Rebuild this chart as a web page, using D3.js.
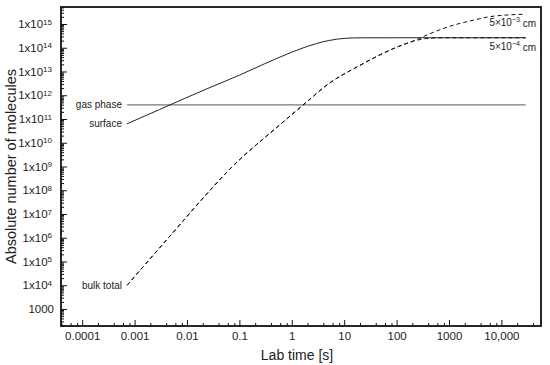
<!DOCTYPE html>
<html>
<head>
<meta charset="utf-8">
<script src="https://d3js.org/d3.v7.min.js"></script>
<style>
  body { margin: 0; background: #fff; }
  svg { display: block; font-family: "Liberation Sans", Arial, sans-serif; }
  .tick text { font-size: 11.5px; fill: #222; }
</style>
</head>
<body>
<svg id="chart" width="550" height="365"></svg>
<script>
// values (time in s, count of molecules)
const gasTime = [7.2e-4, 2.9e4];
const gasCount = [3.9e11, 3.9e11];

const surfaceTime = [7.2e-4, 0.003, 0.01, 0.03, 0.1, 0.3, 1, 2, 3, 5, 10, 20, 100, 2.9e4];
const surfaceCount = [6.3e10, 2.5e11, 8.1e11, 2.3e12, 7e12, 2.1e13, 6.5e13, 1.15e14, 1.52e14, 2.0e14, 2.48e14, 2.62e14, 2.63e14, 2.63e14];

const bulkTime = [7.2e-4, 4.6e-3, 0.041, 0.065, 0.2, 0.32, 1.65, 5.2, 18, 95, 230, 410, 650, 1300, 2750, 5750, 12900, 2.9e4];
const bulkThick = [1e4, 1.1e6, 2.6e8, 7.6e8, 7.5e9, 1.8e10, 3.9e11, 3.2e12, 1.6e13, 1.0e14, 2.1e14, 3.7e14, 5.6e14, 9.3e14, 1.4e15, 2.0e15, 2.4e15, 2.57e15]; // 5x10^-3 cm
const bulkThin = [1e4, 1.1e6, 2.6e8, 7.6e8, 7.5e9, 1.8e10, 3.9e11, 3.2e12, 1.6e13, 1.0e14, 2.0e14, 2.5e14, 2.63e14, 2.63e14, 2.63e14, 2.63e14, 2.63e14, 2.63e14]; // 5x10^-4 cm

const xTicks = [1e-4, 1e-3, 0.01, 0.1, 1, 10, 100, 1000, 10000];
const xTickLabels = ["0.0001", "0.001", "0.01", "0.1", "1", "10", "100", "1000", "10,000"];
const yTicks = [1e3, 1e4, 1e5, 1e6, 1e7, 1e8, 1e9, 1e10, 1e11, 1e12, 1e13, 1e14, 1e15];
const yExponents = [3, 4, 5, 6, 7, 8, 9, 10, 11, 12, 13, 14, 15];

const svg = d3.select('#chart');
const pLeft = 61, pRight = 541, pTop = 7, pBottom = 326;

const x = d3.scaleLog().domain([3.94e-5, 5.7e4]).range([pLeft, pRight]);
const y = d3.scaleLog().domain([192, 5.2e15]).range([pBottom, pTop]);

// minor tick positions
let xMinor = [], yMinor = [];
for (let e = -5; e <= 4; e++) [2, 4, 6, 8].forEach(m => {
  const v = m * Math.pow(10, e);
  if (v > x.domain()[0] && v < x.domain()[1]) xMinor.push(v);
});
for (let e = 2; e <= 15; e++) for (let m = 2; m <= 9; m++) {
  const v = m * Math.pow(10, e);
  if (v > y.domain()[0] && v < y.domain()[1]) yMinor.push(v);
}

// axes
svg.append('g')
  .attr('transform', `translate(0,${pBottom})`)
  .call(d3.axisBottom(x).tickValues(xMinor).tickSizeInner(-3).tickSizeOuter(0).tickFormat(''))
  .call(g => g.select('.domain').remove());
svg.append('g')
  .attr('transform', `translate(0,${pBottom})`)
  .call(d3.axisBottom(x).tickValues(xTicks).tickSizeInner(-6).tickSizeOuter(0).tickPadding(6)
    .tickFormat((d, i) => xTickLabels[i]))
  .call(g => g.select('.domain').remove());

svg.append('g')
  .attr('transform', `translate(${pLeft},0)`)
  .call(d3.axisLeft(y).tickValues(yMinor).tickSizeInner(-3).tickSizeOuter(0).tickFormat(''))
  .call(g => g.select('.domain').remove());
svg.append('g')
  .attr('transform', `translate(${pLeft},0)`)
  .call(d3.axisLeft(y).tickValues(yTicks).tickSizeInner(-6).tickSizeOuter(0).tickPadding(9).tickFormat(''))
  .call(g => g.select('.domain').remove())
  .selectAll('.tick text')
  .each(function (d, i) {
    const t = d3.select(this);
    if (yExponents[i] === 3) { t.text('1000').attr('x', -7); return; }
    t.append('tspan').text('1x10');
    t.append('tspan').attr('dy', '-0.45em').style('font-size', '8px').text(yExponents[i]);
  });

svg.selectAll('.tick line').attr('stroke', '#111').attr('stroke-width', 1);

// frame
svg.append('rect')
  .attr('x', pLeft).attr('y', pTop)
  .attr('width', pRight - pLeft).attr('height', pBottom - pTop)
  .attr('fill', 'none').attr('stroke', '#111').attr('stroke-width', 1.8);

// lines
const line = d3.line().x(d => x(d[0])).y(d => y(d[1])).curve(d3.curveMonotoneX);

svg.append('path')
  .datum(d3.zip(gasTime, gasCount))
  .attr('d', line).attr('fill', 'none').attr('stroke', '#777').attr('stroke-width', 1.2);

svg.append('path')
  .datum(d3.zip(surfaceTime, surfaceCount))
  .attr('d', line).attr('fill', 'none').attr('stroke', '#222').attr('stroke-width', 1);

[bulkThick, bulkThin].forEach(vals => {
  svg.append('path')
    .datum(d3.zip(bulkTime, vals))
    .attr('d', line).attr('fill', 'none').attr('stroke', '#111')
    .attr('stroke-width', 1).attr('stroke-dasharray', '4,3');
});

// labels on the lines
const notes = svg.append('g').style('font-size', '10px').attr('fill', '#222');
notes.append('text').attr('x', 122).attr('y', y(gasCount[0])).attr('dy', '0.35em')
  .attr('text-anchor', 'end').text('gas phase');
notes.append('text').attr('x', 122).attr('y', y(surfaceCount[0])).attr('dy', '0.35em')
  .attr('text-anchor', 'end').text('surface');
notes.append('text').attr('x', 122).attr('y', y(bulkThick[0])).attr('dy', '0.35em')
  .attr('text-anchor', 'end').text('bulk total');

const n1 = notes.append('text').attr('x', 536).attr('y', 22).attr('dy', '0.35em').attr('text-anchor', 'end');
n1.append('tspan').text('5×10');
n1.append('tspan').attr('dy', '-0.45em').style('font-size', '7px').text('−3');
n1.append('tspan').attr('dy', '0.45em').text(' cm');
const n2 = notes.append('text').attr('x', 536).attr('y', 46).attr('dy', '0.35em').attr('text-anchor', 'end');
n2.append('tspan').text('5×10');
n2.append('tspan').attr('dy', '-0.45em').style('font-size', '7px').text('−4');
n2.append('tspan').attr('dy', '0.45em').text(' cm');

// axis titles
svg.append('text')
  .attr('x', (pLeft + pRight) / 2 - 4).attr('y', 360)
  .attr('text-anchor', 'middle').style('font-size', '14px').attr('fill', '#222')
  .text('Lab time [s]');
svg.append('text')
  .attr('transform', `translate(16,${(pTop + pBottom) / 2}) rotate(-90)`)
  .attr('text-anchor', 'middle').style('font-size', '14.5px').attr('fill', '#222')
  .text('Absolute number of molecules');
</script>
</body>
</html>
